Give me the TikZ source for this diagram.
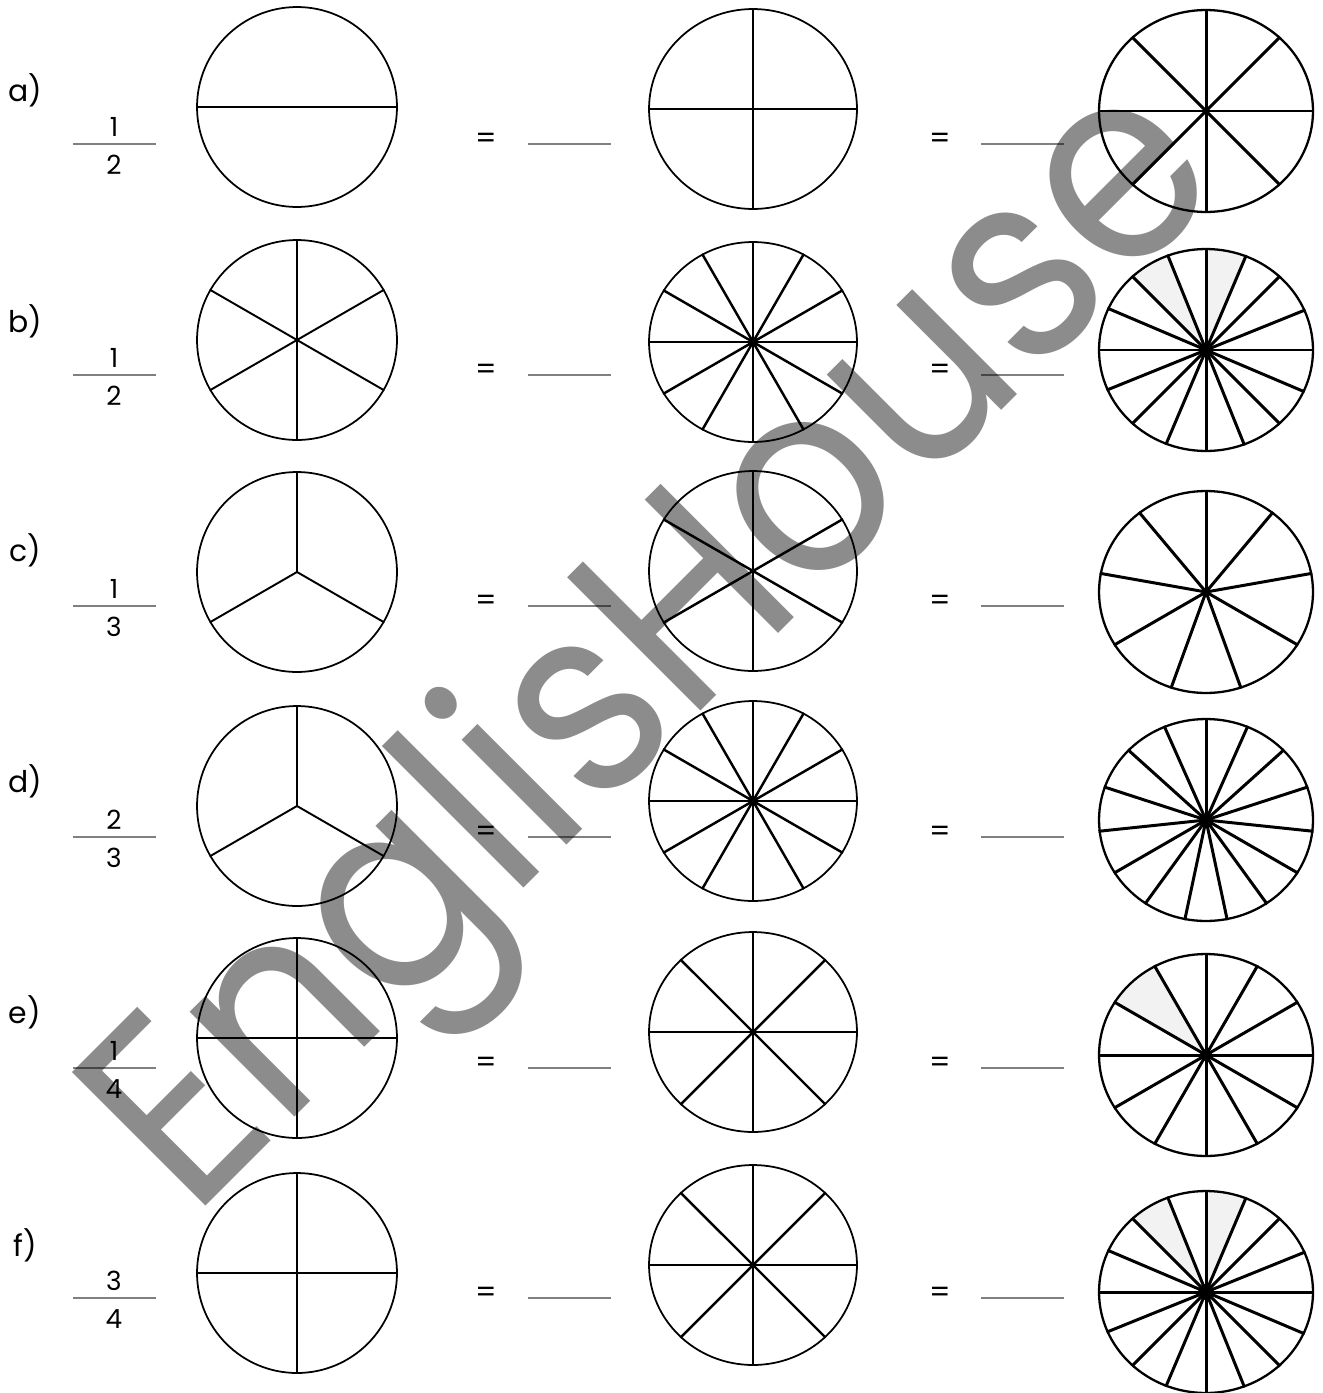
\documentclass[tikz,border=0pt]{standalone}
\usepackage{fontspec}
\setmainfont{Poppins}
\usetikzlibrary{shapes.geometric}
\pgfdeclarelayer{fond}
\pgfsetlayers{fond,main}

\begin{document}
\begin{tikzpicture}[x=0.02cm, y=-0.02cm,
    roue/.style={draw, circle, line width=1pt, minimum size=4cm, inner sep=0pt},
    roueB/.style={draw, ellipse, line width=1pt, minimum width=4.16cm, minimum height=4cm, inner sep=0pt},
    roueC/.style={draw, ellipse, line width=1.3pt, minimum width=4.28cm, minimum height=4.04cm, inner sep=0pt},
    rayon/.style={line width=1.1pt},
    rayonB/.style={line width=1.4pt},
    rayonC/.style={line width=1.7pt},
    moyeu/.style={fill=black},
    ombre/.style={fill=black!5},
    lettre/.style={font=\fontsize{17}{20}\selectfont},
    chiffre/.style={font=\fontsize{15}{18}\selectfont},
    egal/.style={font=\fontsize{17}{20}\selectfont},
    barre/.style={draw=black!50, line width=0.6pt},
    filigrane/.style={font=\fontsize{154}{154}\selectfont, text=black, text opacity=0.45, inner sep=0pt}
]
    \useasboundingbox (0,0) rectangle (1322,1393);

    % labels, fractions, blanks
    \foreach \r/\n/\d/\yl/\yb in {a/1/2/90/144, b/1/2/321/375, c/1/3/550/606,
                                  d/2/3/781/837, e/1/4/1012/1068, f/3/4/1245/1298} {
        \node[lettre] (l\r) at (25,\yl) {\r)};
        \node[chiffre] (n\r) at (114,\yb-17) {\n};
        \node[chiffre] (d\r) at (114,\yb+21) {\d};
        \draw[barre] (73,\yb) -- (156,\yb);
        \node[egal] (eqa\r) at (486,\yb-3) {=};
        \node[egal] (eqb\r) at (940,\yb-3) {=};
        \draw[barre] (528,\yb) -- (611,\yb);
        \draw[barre] (981,\yb) -- (1064,\yb);
    }

    % a)
    \node[roue]  (a1) at (297,107) {};
    \node[roueB] (a2) at (753,109) {};
    \node[roueC] (a3) at (1206,111) {};
    \foreach \a in {0,180} \draw[rayon] (a1.center) -- (a1.\a);
    \foreach \a in {0,90,180,270} \draw[rayonB] (a2.center) -- (a2.\a);
    \foreach \a in {0,45,...,315} \draw[rayonC] (a3.center) -- (a3.\a);
    \fill[moyeu] (a3.center) circle[radius=3];

    % b)
    \node[roue]  (b1) at (297,340) {};
    \node[roueB] (b2) at (753,342) {};
    \node[roueC] (b3) at (1206,350) {};
    \foreach \a in {30,90,...,330} \draw[rayon] (b1.center) -- (b1.\a);
    \foreach \a in {0,30,...,330} \draw[rayonB] (b2.center) -- (b2.\a);
    \begin{pgfonlayer}{fond}
        \fill[ombre] (b3.center) -- (b3.90) -- (b3.78.75) -- (b3.67.5) -- cycle;
        \fill[ombre] (b3.center) -- (b3.112.5) -- (b3.123.75) -- (b3.135) -- cycle;
    \end{pgfonlayer}
    \foreach \a in {0,22.5,...,337.5} \draw[rayonC] (b3.center) -- (b3.\a);
    \fill[moyeu] (b2.center) circle[radius=5];
    \fill[moyeu] (b3.center) circle[radius=7];

    % c)
    \node[roue]  (c1) at (297,572) {};
    \node[roueB] (c2) at (753,571) {};
    \node[roueC] (c3) at (1206,592) {};
    \foreach \a in {90,210,330} \draw[rayon] (c1.center) -- (c1.\a);
    \foreach \a in {30,90,...,330} \draw[rayonB] (c2.center) -- (c2.\a);
    \foreach \a in {10,50,...,330} \draw[rayonC] (c3.center) -- (c3.\a);
    \fill[moyeu] (c3.center) circle[radius=4];

    % d)
    \node[roue]  (d1) at (297,806) {};
    \node[roueB] (d2) at (753,801) {};
    \node[roueC] (d3) at (1206,820) {};
    \foreach \a in {90,210,330} \draw[rayon] (d1.center) -- (d1.\a);
    \foreach \a in {0,30,...,330} \draw[rayonB] (d2.center) -- (d2.\a);
    \foreach \a in {18,42,...,354} \draw[rayonC] (d3.center) -- (d3.\a);
    \fill[moyeu] (d2.center) circle[radius=5];
    \fill[moyeu] (d3.center) circle[radius=6];

    % e)
    \node[roue]  (e1) at (297,1038) {};
    \node[roueB] (e2) at (753,1032) {};
    \node[roueC] (e3) at (1206,1055) {};
    \foreach \a in {0,90,180,270} \draw[rayon] (e1.center) -- (e1.\a);
    \foreach \a in {0,45,...,315} \draw[rayonB] (e2.center) -- (e2.\a);
    \begin{pgfonlayer}{fond}
        \fill[ombre] (e3.center) -- (e3.120) -- (e3.135) -- (e3.150) -- cycle;
    \end{pgfonlayer}
    \foreach \a in {0,30,...,330} \draw[rayonC] (e3.center) -- (e3.\a);
    \fill[moyeu] (e2.center) circle[radius=2];
    \fill[moyeu] (e3.center) circle[radius=6];

    % f)
    \node[roue]  (f1) at (297,1273) {};
    \node[roueB] (f2) at (753,1265) {};
    \node[roueC] (f3) at (1206,1292) {};
    \foreach \a in {0,90,180,270} \draw[rayon] (f1.center) -- (f1.\a);
    \foreach \a in {0,45,...,315} \draw[rayonB] (f2.center) -- (f2.\a);
    \begin{pgfonlayer}{fond}
        \fill[ombre] (f3.center) -- (f3.90) -- (f3.78.75) -- (f3.67.5) -- cycle;
        \fill[ombre] (f3.center) -- (f3.112.5) -- (f3.123.75) -- (f3.135) -- cycle;
    \end{pgfonlayer}
    \foreach \a in {0,22.5,...,337.5} \draw[rayonC] (f3.center) -- (f3.\a);
    \fill[moyeu] (f3.center) circle[radius=8];

    % watermark
    \node[filigrane, rotate=45, xscale=0.91, anchor=base west] (wm) at (192,1220) {EnglisHouse};
\end{tikzpicture}
\end{document}
